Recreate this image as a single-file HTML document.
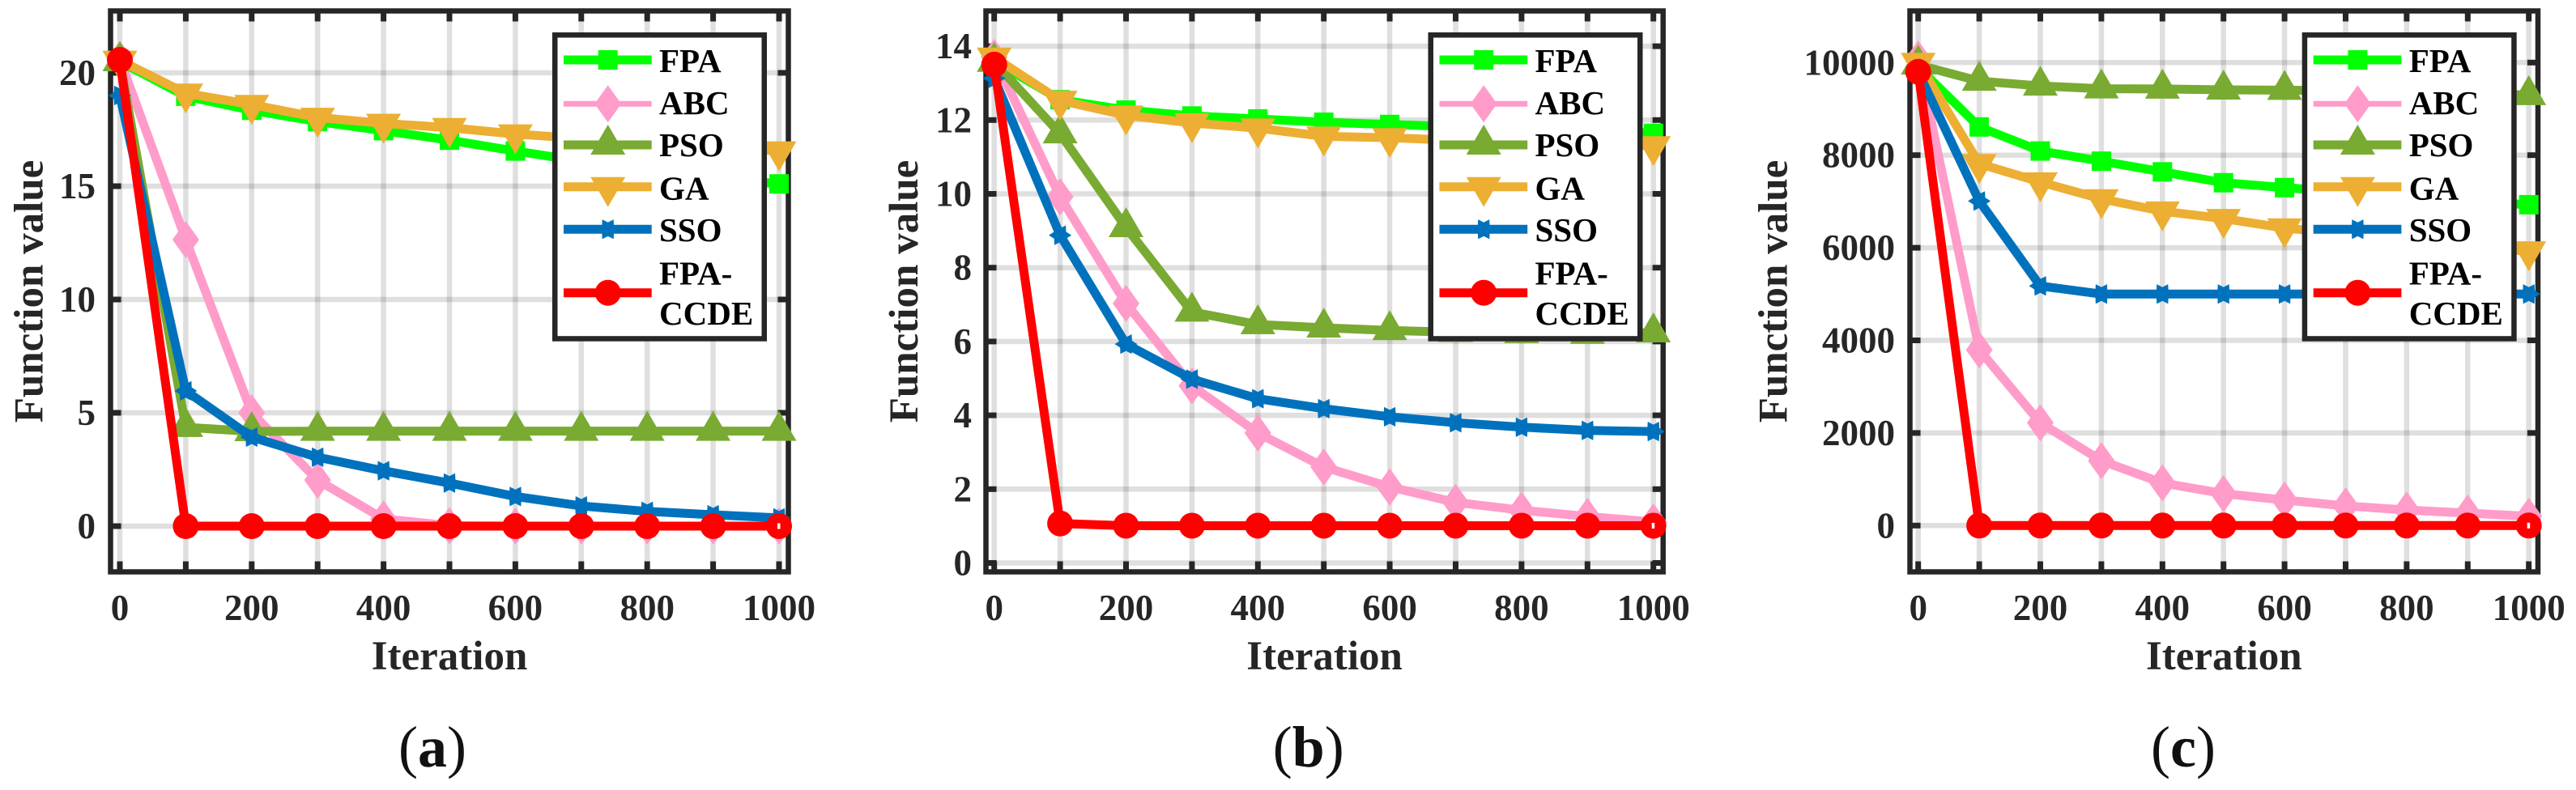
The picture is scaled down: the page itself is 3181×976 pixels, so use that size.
<!DOCTYPE html>
<html lang="en">
<head>
<meta charset="utf-8">
<title>Convergence curves for three benchmark functions</title>
<style>
  html, body { margin: 0; padding: 0; background: #fff; }
  svg { display: block; }
  text { font-family: "Liberation Serif", serif; font-weight: bold; fill: #262626; }
  .legend-text { fill: #000; font-size: 41px; }
  .tick-label { font-size: 45px; }
  .axis-title { font-size: 51px; }
  .caption { font-size: 72px; fill: #111; }
  .caption tspan.paren { font-weight: normal; }
  .grid { stroke: rgba(38,38,38,0.15); stroke-width: 6.5; }
  .frame { fill: none; stroke: #262626; stroke-width: 6.5; }
  .tick { stroke: #262626; stroke-width: 7; }
  .legend-box { fill: #fff; stroke: #262626; stroke-width: 6.5; }
  .s-fpa { --c: #00ff00; } .s-abc { --c: #ff9cc9; } .s-pso { --c: #79aa32; }
  .s-ga { --c: #ecaf33; } .s-sso { --c: #0072bd; } .s-ccde { --c: #ff0000; }
  .line { fill: none; stroke: var(--c); stroke-width: 11; stroke-linejoin: round; }
  .marker { fill: var(--c); stroke: none; }
  .hole { fill: #fff; stroke: none; }
</style>
</head>
<body>
<svg id="figure" xmlns="http://www.w3.org/2000/svg" width="3181" height="976" viewBox="0 0 3181 976">
  <rect width="3181" height="976" fill="#fff"></rect>
</svg>
<script>
// ---------- shared categories and labels ----------
const iterations = [0, 100, 200, 300, 400, 500, 600, 700, 800, 900, 1000];
const xTickValues = [0, 100, 200, 300, 400, 500, 600, 700, 800, 900, 1000];
const xTickLabels = ['0', '', '200', '', '400', '', '600', '', '800', '', '1000'];
const seriesNames = ['FPA', 'ABC', 'PSO', 'GA', 'SSO', 'FPA-CCDE'];
const xAxisTitle = 'Iteration';
const yAxisTitle = 'Function value';

// ---------- panel (a) values ----------
const aFPA  = [20.5, 18.97, 18.35, 17.85, 17.45, 17.03, 16.55, 16.1, 15.8, 15.4, 15.1];
const aABC  = [20.6, 12.64, 5.0, 2.03, 0.32, 0.02, 0, 0, 0, 0, 0];
const aPSO  = [20.5, 4.36, 4.18, 4.19, 4.19, 4.19, 4.19, 4.19, 4.19, 4.19, 4.19];
const aGA   = [20.55, 19.1, 18.6, 18.03, 17.77, 17.58, 17.3, 17.1, 16.95, 16.75, 16.55];
const aSSO  = [19.0, 5.97, 3.93, 3.04, 2.44, 1.9, 1.31, 0.89, 0.65, 0.5, 0.36];
const aCCDE = [20.57, 0, 0, 0, 0, 0, 0, 0, 0, 0, 0];
const aYTicks = [0, 5, 10, 15, 20];

// ---------- panel (b) values ----------
const bFPA  = [13.6, 12.55, 12.27, 12.11, 12.03, 11.94, 11.88, 11.82, 11.78, 11.75, 11.64];
const bABC  = [13.7, 9.92, 7.03, 4.8, 3.52, 2.6, 2.06, 1.64, 1.43, 1.26, 1.11];
const bPSO  = [13.57, 11.63, 9.09, 6.8, 6.46, 6.37, 6.3, 6.25, 6.22, 6.2, 6.24];
const bGA   = [13.7, 12.53, 12.13, 11.92, 11.78, 11.56, 11.52, 11.45, 11.4, 11.38, 11.3];
const bSSO  = [13.13, 8.88, 5.93, 4.98, 4.45, 4.18, 3.96, 3.8, 3.68, 3.59, 3.56];
const bCCDE = [13.5, 1.07, 1.01, 1.01, 1.01, 1.01, 1.01, 1.01, 1.01, 1.01, 1.01];
const bYTicks = [0, 2, 4, 6, 8, 10, 12, 14];

// ---------- panel (c) values ----------
const cFPA  = [9900, 8610, 8090, 7870, 7640, 7405, 7300, 7200, 7100, 7000, 6930];
const cABC  = [10075, 3795, 2220, 1400, 920, 690, 550, 425, 335, 270, 200];
const cPSO  = [9950, 9600, 9495, 9435, 9430, 9410, 9405, 9390, 9380, 9370, 9290];
const cGA   = [10000, 7815, 7420, 7055, 6790, 6630, 6425, 6300, 6150, 6000, 5930];
const cSSO  = [9800, 7010, 5175, 5000, 5000, 5000, 5000, 5000, 5000, 5000, 5000];
const cCCDE = [9800, 0, 0, 0, 0, 0, 0, 0, 0, 0, 0];
const cYTicks = [0, 2000, 4000, 6000, 8000, 10000];

// ---------- drawing ----------
const NS = 'http://www.w3.org/2000/svg';
const root = document.getElementById('figure');
const seriesClasses = ['s-fpa', 's-abc', 's-pso', 's-ga', 's-sso', 's-ccde'];

function make(parent, tag, attrs, text) {
  const node = document.createElementNS(NS, tag);
  for (const k in attrs) node.setAttribute(k, attrs[k]);
  if (text !== undefined) node.textContent = text;
  parent.appendChild(node);
  return node;
}

function slug(name) { return name.toLowerCase().replace(/[^a-z0-9]+/g, '-'); }

function drawMarker(parent, kind, cx, cy) {
  let m;
  if (kind === 's-fpa') {
    m = make(parent, 'rect', { x: cx - 12, y: cy - 12, width: 24, height: 24 });
  } else if (kind === 's-abc') {
    m = make(parent, 'polygon', { points: [cx, cy - 23, cx + 16.5, cy, cx, cy + 23, cx - 16.5, cy].join(',') });
  } else if (kind === 's-pso') {
    m = make(parent, 'polygon', { points: [cx, cy - 25, cx + 21.5, cy + 12, cx - 21.5, cy + 12].join(',') });
  } else if (kind === 's-ga') {
    m = make(parent, 'polygon', { points: [cx, cy + 25, cx + 21.5, cy - 12, cx - 21.5, cy - 12].join(',') });
  } else if (kind === 's-sso') {
    const pts = [];
    for (let k = 0; k < 12; k++) {
      const r = k % 2 === 0 ? 14 : 8.5;
      const a = k * Math.PI / 6;
      pts.push(cx + r * Math.cos(a), cy + r * Math.sin(a));
    }
    m = make(parent, 'polygon', { points: pts.join(',') });
  } else {
    m = make(parent, 'circle', { cx: cx, cy: cy, r: 16 });
  }
  m.setAttribute('class', 'marker');
  return m;
}

function drawPanel(p) {
  const g = make(root, 'g', {});
  
  

  const xScale = v => p.x0 + v * p.xPerUnit;
  const yScale = v => p.y0 - v * p.yPerUnit;

  // gridlines
  const grid = make(g, 'g', {});
  
  
  xTickValues.forEach(v => {
    make(grid, 'line', { class: 'grid', x1: xScale(v), x2: xScale(v), y1: p.top, y2: p.bottom });
  });
  p.yTicks.forEach(v => {
    make(grid, 'line', { class: 'grid', x1: p.left, x2: p.right, y1: yScale(v), y2: yScale(v) });
  });

  // frame
  const frame = make(g, 'rect', { class: 'frame', x: p.left, y: p.top, width: p.right - p.left, height: p.bottom - p.top });
  
  

  // ticks and labels
  const ticks = make(g, 'g', {});
  
  
  xTickValues.forEach((v, i) => {
    const x = xScale(v);
    make(ticks, 'line', { class: 'tick', x1: x, x2: x, y1: p.top, y2: p.top + 13 });
    make(ticks, 'line', { class: 'tick', x1: x, x2: x, y1: p.bottom, y2: p.bottom - 13 });
    if (xTickLabels[i]) {
      const t = make(g, 'text', { class: 'tick-label', x: x, y: 766, 'text-anchor': 'middle' }, xTickLabels[i]);
      
      
    }
  });
  p.yTicks.forEach(v => {
    const y = yScale(v);
    make(ticks, 'line', { class: 'tick', x1: p.left, x2: p.left + 13, y1: y, y2: y });
    make(ticks, 'line', { class: 'tick', x1: p.right, x2: p.right - 13, y1: y, y2: y });
    const t = make(g, 'text', { class: 'tick-label', x: p.yLabelRight, y: y + 15, 'text-anchor': 'end' }, String(v));
    
    
  });

  // axis titles
  const xt = make(g, 'text', { class: 'axis-title', x: (p.left + p.right) / 2, y: 827, 'text-anchor': 'middle' }, xAxisTitle);
  
  
  const yt = make(g, 'text', { class: 'axis-title', 'text-anchor': 'middle', transform: 'translate(' + p.yTitleX + ',360) rotate(-90)' }, yAxisTitle);
  
  

  // series
  p.series.forEach((values, si) => {
    const cls = seriesClasses[si];
    const s = make(g, 'g', { class: cls });
    
    
    const pts = values.map((v, i) => xScale(iterations[i]) + ',' + yScale(v)).join(' ');
    make(s, 'polyline', { class: 'line', points: pts });
    values.forEach((v, i) => {
      const cx = xScale(iterations[i]);
      const cy = yScale(v);
      const m = drawMarker(s, cls, cx, cy);
      
      
      if (i === values.length - 1 && cls === 's-ccde') {
        make(s, 'rect', { class: 'hole', x: cx - 2, y: cy - 3.5, width: 3.5, height: 7 });
      }
    });
  });

  // legend
  const lg = make(g, 'g', {});
  
  
  const L = p.legendLeft;
  make(lg, 'rect', { class: 'legend-box', x: L + 3.25, y: 43.25, width: 258.5, height: 375.2 });
  const rowY = [74, 128.3, 179, 230.7, 283.3, 361.7];
  const rowBase = [89, 141, 193, 246.7, 298, 0];
  seriesNames.forEach((name, i) => {
    const cls = seriesClasses[i];
    const e = make(lg, 'g', { class: cls });
    
    
    const ln = make(e, 'line', { class: 'line', x1: L + 14, x2: L + 122.7, y1: rowY[i], y2: rowY[i] });
    if (cls === 's-abc') ln.style.strokeWidth = '7';
    drawMarker(e, cls, L + 68.7, rowY[i]);
    if (i < 5) {
      make(e, 'text', { class: 'legend-text', x: L + 132, y: rowBase[i] }, name);
    } else {
      const parts = name.split('-');
      make(e, 'text', { class: 'legend-text', x: L + 132, y: 351.7 }, parts[0] + '-');
      make(e, 'text', { class: 'legend-text', x: L + 132, y: 401 }, parts[1]);
    }
  });

  // caption
  const cap = make(g, 'text', { class: 'caption', x: p.captionX, y: 947, 'text-anchor': 'middle' });
  
  
  make(cap, 'tspan', { class: 'paren' }, '(');
  make(cap, 'tspan', {}, p.id);
  make(cap, 'tspan', { class: 'paren' }, ')');
}

drawPanel({
  id: 'a', series: [aFPA, aABC, aPSO, aGA, aSSO, aCCDE], yTicks: aYTicks,
  x0: 148, xPerUnit: 0.814, y0: 650, yPerUnit: 28,
  left: 136.5, right: 973.5, top: 13.5, bottom: 706.5,
  yLabelRight: 118, yTitleX: 52.5, legendLeft: 682, captionX: 534
});
drawPanel({
  id: 'b', series: [bFPA, bABC, bPSO, bGA, bSSO, bCCDE], yTicks: bYTicks,
  x0: 1227.7, xPerUnit: 0.814, y0: 695.5, yPerUnit: 45.6,
  left: 1217.5, right: 2053.7, top: 13.5, bottom: 706.5,
  yLabelRight: 1200, yTitleX: 1133, legendLeft: 1763.5, captionX: 1615.7
});
drawPanel({
  id: 'c', series: [cFPA, cABC, cPSO, cGA, cSSO, cCCDE], yTicks: cYTicks,
  x0: 2368.7, xPerUnit: 0.754, y0: 649.3, yPerUnit: 0.0572,
  left: 2358.5, right: 3134, top: 13.5, bottom: 706.5,
  yLabelRight: 2340, yTitleX: 2206.6, legendLeft: 2842.7, captionX: 2696
});
</script>
</body>
</html>
